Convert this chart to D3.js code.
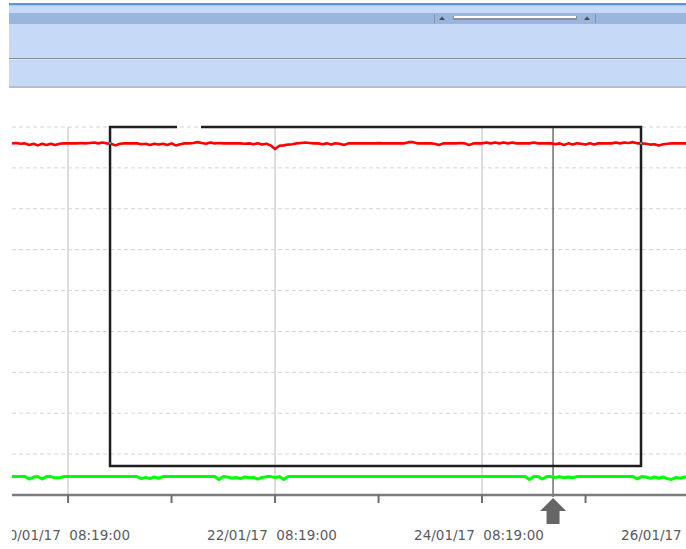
<!DOCTYPE html>
<html>
<head>
<meta charset="utf-8">
<script src="https://d3js.org/d3.v7.min.js"></script>
<style>
body { margin: 0; background: #fff; }
.tick-label { font-family: "DejaVu Sans", Verdana, sans-serif; font-size: 13.5px; fill: #5a5a62; }
</style>
</head>
<body>
<script>
// hourly samples starting 19/01/17 19:19
var seriesStart = new Date(2017, 0, 19, 19, 19);
var stepHours = 1;

var redValues = [
  86.0, 86.1, 85.9, 86.0, 85.6, 85.9, 85.5, 85.9, 85.6, 85.9,
  85.6, 85.9, 86.0, 86.0, 86.0, 86.0, 86.1, 86.0, 86.1, 86.2,
  86.0, 86.2, 86.0, 85.9, 85.5, 85.9, 86.0, 86.0, 86.0, 86.0,
  85.8, 85.9, 85.6, 85.9, 85.7, 85.9, 85.6, 86.0, 85.5, 85.8,
  86.0, 86.0, 86.1, 86.3, 86.1, 85.9, 86.2, 86.0, 86.1, 86.0,
  86.0, 86.0, 86.0, 86.0, 85.9, 86.0, 85.8, 86.0, 85.7, 85.9,
  85.5, 84.6, 85.4, 85.5, 85.7, 85.8, 86.0, 86.1, 86.2, 86.1,
  86.0, 86.0, 85.8, 86.0, 85.7, 86.0, 85.9, 85.6, 86.0, 86.0,
  86.0, 86.0, 86.0, 86.0, 86.0, 86.05, 86.0, 86.0, 86.0, 86.0,
  86.0, 86.0, 86.3, 86.3, 86.0, 86.0, 86.0, 86.0, 85.9, 85.6,
  86.0, 86.0, 86.0, 86.0, 86.1, 86.0, 85.6, 86.0, 86.0, 86.0,
  86.2, 86.0, 86.2, 86.0, 86.2, 86.0, 86.2, 86.0, 86.0, 86.0,
  86.0, 86.2, 86.0, 86.0, 86.0, 86.0, 85.8, 86.0, 85.6, 86.0,
  85.7, 86.0, 85.9, 85.7, 86.0, 85.7, 86.0, 86.0, 86.0, 86.0,
  86.2, 86.0, 86.2, 86.1, 86.3, 86.0, 86.0, 85.9, 85.7, 85.8,
  85.5, 85.8, 85.9, 86.0, 86.0, 86.0, 86.0, 86.0
];

var greenValues = [
  4.5, 4.5, 4.5, 4.5, 3.9, 4.4, 4.5, 3.9, 4.5, 4.5,
  4.2, 4.2, 4.5, 4.5, 4.5, 4.5, 4.5, 4.5, 4.5, 4.5,
  4.5, 4.5, 4.5, 4.5, 4.5, 4.5, 4.5, 4.5, 4.5, 4.5,
  4.0, 4.3, 4.0, 4.4, 4.1, 4.5, 4.5, 4.5, 4.5, 4.5,
  4.5, 4.5, 4.5, 4.5, 4.5, 4.5, 4.5, 4.5, 3.8, 4.5,
  4.4, 4.1, 4.3, 4.0, 4.4, 4.2, 4.3, 3.9, 4.3, 4.5,
  4.5, 4.3, 4.5, 3.8, 4.5, 4.5, 4.5, 4.5, 4.5, 4.5,
  4.5, 4.5, 4.5, 4.5, 4.5, 4.5, 4.5, 4.5, 4.5, 4.5,
  4.5, 4.5, 4.5, 4.5, 4.5, 4.5, 4.5, 4.5, 4.5, 4.5,
  4.5, 4.5, 4.5, 4.5, 4.5, 4.5, 4.5, 4.5, 4.5, 4.5,
  4.5, 4.5, 4.5, 4.5, 4.5, 4.5, 4.5, 4.5, 4.5, 4.5,
  4.5, 4.5, 4.5, 4.5, 4.5, 4.5, 4.5, 4.5, 4.5, 4.5,
  3.8, 4.5, 4.5, 3.9, 4.5, 4.5, 4.3, 4.5, 4.2, 4.4,
  4.2, 4.5, 4.5, 4.5, 4.5, 4.5, 4.5, 4.5, 4.5, 4.5,
  4.5, 4.5, 4.5, 4.5, 4.5, 3.9, 4.5, 4.4, 4.1, 4.4,
  4.1, 4.4, 4.0, 3.8, 4.3, 4.1, 4.4, 4.5
];

var gridValues = [10, 20, 30, 40, 50, 60, 70, 80, 90];
var tickDates = [
  new Date(2017, 0, 20, 8, 19), new Date(2017, 0, 21, 8, 19), new Date(2017, 0, 22, 8, 19),
  new Date(2017, 0, 23, 8, 19), new Date(2017, 0, 24, 8, 19), new Date(2017, 0, 25, 8, 19),
  new Date(2017, 0, 26, 8, 19)
];
var labelDates = [
  new Date(2017, 0, 20, 8, 19), new Date(2017, 0, 22, 8, 19),
  new Date(2017, 0, 24, 8, 19), new Date(2017, 0, 26, 8, 19)
];

// selection box and cursor
var selStart = new Date(2017, 0, 20, 18, 3);
var selEnd = new Date(2017, 0, 25, 21, 11);
var selTop = 90;
var selBottom = 7.1;
var selGapStart = new Date(2017, 0, 21, 9, 35);
var selGapEnd = new Date(2017, 0, 21, 15, 9);
var cursorDate = new Date(2017, 0, 25, 0, 47);

var width = 686, height = 549;
var plotLeft = 12, plotRight = 686, plotTop = 127, plotBottom = 495;

var svg = d3.select("body").append("svg")
    .attr("width", width)
    .attr("height", height);

// ---- toolbar strip on top ----
var bar = svg.append("g").attr("class", "toolbar");
bar.append("rect").attr("x", 9).attr("y", 3).attr("width", width - 9).attr("height", 85).attr("fill", "#c6daf8");
bar.append("rect").attr("x", 9).attr("y", 3).attr("width", width - 9).attr("height", 2).attr("fill", "#5d93e3");
bar.append("rect").attr("x", 9).attr("y", 5).attr("width", width - 9).attr("height", 1).attr("fill", "#a9c6f0");
bar.append("rect").attr("x", 9).attr("y", 13).attr("width", width - 9).attr("height", 11).attr("fill", "#9bb6dc");
bar.append("rect").attr("x", 9).attr("y", 58).attr("width", width - 9).attr("height", 1).attr("fill", "#8d8d8d");
bar.append("rect").attr("x", 9).attr("y", 59).attr("width", width - 9).attr("height", 1).attr("fill", "#d8e6fa");
bar.append("rect").attr("x", 9).attr("y", 86).attr("width", width - 9).attr("height", 2).attr("fill", "#b9bcc2");
// scroller
bar.append("rect").attr("x", 434).attr("y", 14).attr("width", 1).attr("height", 9).attr("fill", "#8195b3");
bar.append("rect").attr("x", 595).attr("y", 14).attr("width", 1).attr("height", 9).attr("fill", "#8195b3");
bar.append("rect").attr("x", 453).attr("y", 16).attr("width", 124).attr("height", 4).attr("fill", "#8c8f96");
bar.append("rect").attr("x", 454).attr("y", 16).attr("width", 122).attr("height", 2).attr("fill", "#ffffff");
bar.append("path").attr("d", "M439,20 L442,16.5 L445,20 Z").attr("fill", "#4d4d4d");
bar.append("path").attr("d", "M584,20 L587,16.5 L590,20 Z").attr("fill", "#4d4d4d");

// ---- scales ----
var x = d3.scaleTime()
    .domain([new Date(2017, 0, 19, 19, 19), new Date(2017, 0, 26, 7, 37)])
    .range([plotLeft, plotRight]);

var y = d3.scaleLinear()
    .domain([0, 90])
    .range([plotBottom, plotTop]);

svg.append("defs").append("clipPath").attr("id", "plotclip")
  .append("rect").attr("x", plotLeft).attr("y", 100).attr("width", plotRight - plotLeft).attr("height", 449);

var plot = svg.append("g").attr("clip-path", "url(#plotclip)");

// horizontal dashed grid
plot.selectAll(".hgrid")
  .data(gridValues)
  .enter().append("line")
  .attr("class", "hgrid")
  .attr("x1", plotLeft)
  .attr("x2", plotRight)
  .attr("y1", function(d) { return y(d); })
  .attr("y2", function(d) { return y(d); })
  .attr("stroke", "#d4d4d4")
  .attr("stroke-width", 1)
  .attr("stroke-dasharray", "4,3");

// vertical grid on labelled ticks
plot.selectAll(".vgrid")
  .data(labelDates)
  .enter().append("line")
  .attr("class", "vgrid")
  .attr("x1", function(d) { return x(d); })
  .attr("x2", function(d) { return x(d); })
  .attr("y1", y(90))
  .attr("y2", plotBottom)
  .attr("stroke", "#d2d2d2")
  .attr("stroke-width", 1.5);

// cursor line
plot.append("line")
  .attr("x1", x(cursorDate)).attr("x2", x(cursorDate))
  .attr("y1", y(90)).attr("y2", plotBottom + 2)
  .attr("stroke", "#707070")
  .attr("stroke-width", 1.5);

// series
var redData = redValues.map(function(v, i) { return {t: d3.timeHour.offset(seriesStart, i * stepHours), v: v}; });
var greenData = greenValues.map(function(v, i) { return {t: d3.timeHour.offset(seriesStart, i * stepHours), v: v}; });

var line = d3.line()
    .x(function(d) { return x(d.t); })
    .y(function(d) { return y(d.v); });

plot.append("path")
  .datum(greenData)
  .attr("d", line)
  .attr("fill", "none")
  .attr("stroke", "#00ff00")
  .attr("stroke-width", 3)
  .attr("stroke-linejoin", "round");

plot.append("path")
  .datum(redData)
  .attr("d", line)
  .attr("fill", "none")
  .attr("stroke", "#ff0000")
  .attr("stroke-width", 2.6)
  .attr("stroke-linejoin", "round");

// selection rectangle (top edge has a gap)
var sx0 = x(selStart), sx1 = x(selEnd), sy0 = y(selTop), sy1 = y(selBottom);
var sel = plot.append("g").attr("fill", "none").attr("stroke", "#1e1e1e").attr("stroke-width", 2.5);
sel.append("path")
  .attr("d", "M" + x(selGapStart) + "," + sy0 + " L" + sx0 + "," + sy0 + " L" + sx0 + "," + sy1 +
             " L" + sx1 + "," + sy1 + " L" + sx1 + "," + sy0 + " L" + x(selGapEnd) + "," + sy0);

// little cyan markers where the red line meets the box
var redAt = function(date) {
  var i = d3.bisector(function(d) { return d.t; }).right(redData, date) - 1;
  return redData[Math.max(0, i)].v;
};
plot.selectAll(".mark")
  .data([selStart, selEnd])
  .enter().append("rect")
  .attr("x", function(d) { return x(d) - 1; })
  .attr("y", function(d) { return y(redAt(d)) - 1; })
  .attr("width", 2).attr("height", 2)
  .attr("fill", "#20c8d0");

// ---- x axis ----
var axis = svg.append("g").attr("clip-path", "url(#plotclip)");
axis.append("line")
  .attr("x1", plotLeft).attr("x2", plotRight)
  .attr("y1", plotBottom).attr("y2", plotBottom)
  .attr("stroke", "#7c7c7c")
  .attr("stroke-width", 2.5);

axis.selectAll(".tk")
  .data(tickDates)
  .enter().append("line")
  .attr("class", "tk")
  .attr("x1", function(d) { return x(d); })
  .attr("x2", function(d) { return x(d); })
  .attr("y1", plotBottom)
  .attr("y2", plotBottom + 8)
  .attr("stroke", "#6e6e6e")
  .attr("stroke-width", 2);

axis.selectAll(".tick-label")
  .data(labelDates)
  .enter().append("text")
  .attr("class", "tick-label")
  .attr("x", function(d) { return x(d) - 3; })
  .attr("y", 540)
  .attr("text-anchor", "middle")
  .text(function(d) { return d3.timeFormat("%d/%m/%y")(d) + "\u00a0\u00a0" + d3.timeFormat("%H:%M:%S")(d); });

// cursor arrow under the axis
var cx = x(cursorDate);
svg.append("path")
  .attr("d", "M" + cx + "," + (plotBottom + 3) + " L" + (cx + 13) + "," + (plotBottom + 16) +
             " L" + (cx + 6.5) + "," + (plotBottom + 16) + " L" + (cx + 6.5) + "," + (plotBottom + 29) +
             " L" + (cx - 6.5) + "," + (plotBottom + 29) + " L" + (cx - 6.5) + "," + (plotBottom + 16) +
             " L" + (cx - 13) + "," + (plotBottom + 16) + " Z")
  .attr("fill", "#666666");
</script>
</body>
</html>
